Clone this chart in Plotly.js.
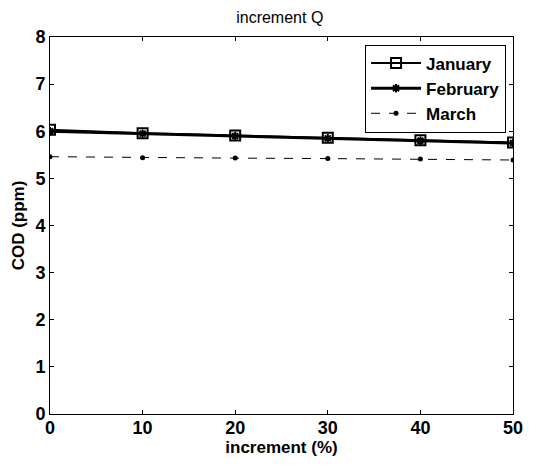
<!DOCTYPE html>
<html><head><meta charset="utf-8">
<script src="https://cdn.plot.ly/plotly-3.0.1.min.js"></script>
<style>html,body{margin:0;padding:0;background:#fff}</style>
</head><body>
<div id="chart" style="width:538px;height:466px"></div>
<script>
const increment = [0, 10, 20, 30, 40, 50];
const january = [6.03, 5.96, 5.91, 5.86, 5.81, 5.76];
const february = [6.00, 5.95, 5.90, 5.85, 5.80, 5.75];
const march = [5.46, 5.44, 5.43, 5.42, 5.41, 5.39];
const xTicks = [0, 10, 20, 30, 40, 50];
const yTicks = [0, 1, 2, 3, 4, 5, 6, 7, 8];

const traces = [
  {x: increment, y: january, name: 'January', mode: 'lines+markers',
   line: {color: '#000', width: 2},
   marker: {symbol: 'square-open', size: 10, color: '#000', line: {width: 2, color: '#000'}}},
  {x: increment, y: february, name: 'February', mode: 'lines+markers',
   line: {color: '#000', width: 3},
   marker: {symbol: 'asterisk', size: 7, color: '#000', line: {width: 2, color: '#000'}}},
  {x: increment, y: march, name: 'March', mode: 'lines+markers',
   line: {color: '#000', width: 1, dash: 'dash'},
   marker: {symbol: 'circle', size: 5, color: '#000'}}
];

const layout = {
  width: 538, height: 466,
  margin: {l: 50, r: 25, t: 37, b: 52},
  paper_bgcolor: '#fff', plot_bgcolor: '#fff',
  title: {text: 'increment Q', x: 0.52, xanchor: 'center', y: 0.975, yanchor: 'top',
          font: {family: 'Liberation Sans, Arial', size: 16, color: '#000'}},
  xaxis: {range: [0, 50], tickvals: xTicks, ticktext: xTicks.map(String),
          ticks: 'inside', ticklen: 4, tickcolor: '#000', mirror: 'ticks',
          showline: true, linecolor: '#000', linewidth: 1, showgrid: false, zeroline: false,
          ticklabelstandoff: -3,
          tickfont: {family: 'Liberation Sans, Arial', size: 18, color: '#000', weight: 'bold'},
          title: {text: '<b>increment (%)</b>', standoff: 0,
                  font: {family: 'Liberation Sans, Arial', size: 17, color: '#000'}}},
  yaxis: {range: [0, 8], tickvals: yTicks, ticktext: yTicks.map(String),
          ticks: 'inside', ticklen: 4, tickcolor: '#000', mirror: 'ticks',
          showline: true, linecolor: '#000', linewidth: 1, showgrid: false, zeroline: false,
          tickfont: {family: 'Liberation Sans, Arial', size: 18, color: '#000', weight: 'bold'},
          title: {text: '<b>COD (ppm)</b>', standoff: 6,
                  font: {family: 'Liberation Sans, Arial', size: 17, color: '#000'}}},
  legend: {x: 0.985, y: 0.98, xanchor: 'right', yanchor: 'top',
           bordercolor: '#000', borderwidth: 1, bgcolor: '#fff',
           font: {family: 'Liberation Sans, Arial', size: 17, color: '#000', weight: 'bold'},
           itemwidth: 50, tracegroupgap: 0},
  showlegend: true
};
Plotly.newPlot('chart', traces, layout, {displayModeBar: false, staticPlot: true});
</script>
</body></html>
